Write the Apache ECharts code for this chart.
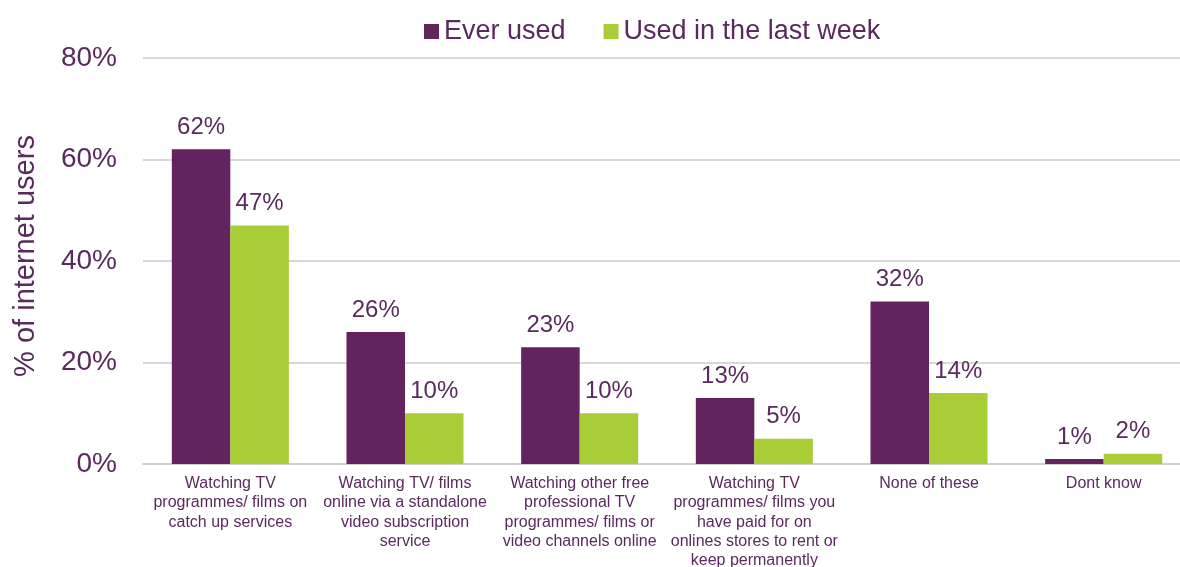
<!DOCTYPE html>
<html><head><meta charset="utf-8">
<script src="https://cdn.jsdelivr.net/npm/echarts@6/dist/echarts.min.js"></script>
<style>html,body{margin:0;padding:0;background:#fff}#c{width:1180px;height:567px}</style>
</head><body><div id="c"></div>
<script>
const categories = [
  "Watching TV\nprogrammes/ films on\ncatch up services",
  "Watching TV/ films\nonline via a standalone\nvideo subscription\nservice",
  "Watching other free\nprofessional TV\nprogrammes/ films or\nvideo channels online",
  "Watching TV\nprogrammes/ films you\nhave paid for on\nonlines stores to rent or\nkeep permanently",
  "None of these",
  "Dont know"
];
const everUsed = [62, 26, 23, 13, 32, 1];
const lastWeek = [47, 10, 10, 5, 14, 2];
const yTicks = [0, 20, 40, 60, 80];

const purple = '#62235f', green = '#a8cd37', textC = '#5a2a5e';
const font = 'Liberation Sans, Arial, sans-serif';
const chart = echarts.init(document.getElementById('c'));
chart.setOption({
  animation: false,
  textStyle: { fontFamily: font },
  legend: {
    top: 13, left: 419, itemWidth: 15, itemHeight: 15, itemGap: 38,
    icon: 'rect',
    textStyle: { fontSize: 27, color: textC, fontFamily: font },
    data: ['Ever used', 'Used in the last week']
  },
  grid: { left: 143, width: 1048, top: 58, bottom: 103, containLabel: false, outerBoundsMode: 'none' },
  xAxis: {
    type: 'category', data: categories,
    axisLine: { lineStyle: { color: '#d0d0d0', width: 2 } },
    axisTick: { show: false },
    axisLabel: { color: textC, fontSize: 16, lineHeight: 19.3, margin: 10, interval: 0 }
  },
  yAxis: {
    type: 'value', min: 0, max: 80, interval: 20,
    name: '% of internet users', nameLocation: 'middle', nameGap: 103, nameRotate: 90,
    nameTextStyle: { color: textC, fontSize: 29, padding: [0, 0, 0, 10] },
    axisLine: { show: false }, axisTick: { show: false },
    axisLabel: { color: textC, fontSize: 28, margin: 26, formatter: v => v + '%' },
    splitLine: { lineStyle: { color: '#d9d9d9', width: 2 } }
  },
  series: [
    { name: 'Ever used', type: 'bar', data: everUsed, barGap: '0%', barCategoryGap: '33%',
      itemStyle: { color: purple },
      label: { show: true, position: 'top', distance: 10, color: textC, fontSize: 24, formatter: p => p.value + '%' } },
    { name: 'Used in the last week', type: 'bar', data: lastWeek,
      itemStyle: { color: green },
      label: { show: true, position: 'top', distance: 10, color: textC, fontSize: 24, formatter: p => p.value + '%' } }
  ]
});
</script></body></html>
